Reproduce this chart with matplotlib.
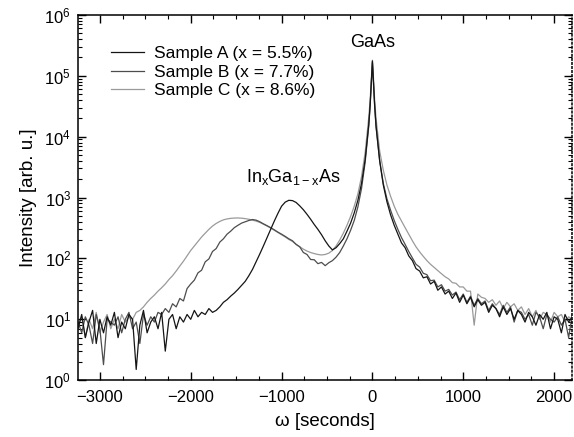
import numpy as np
import matplotlib
matplotlib.use("Agg")
import matplotlib.pyplot as plt
from matplotlib.ticker import MultipleLocator, LogLocator, NullFormatter

plt.rcParams['font.family'] = ['Liberation Sans', 'DejaVu Sans']
plt.rcParams['mathtext.default'] = 'regular'

# omega grid [seconds]: 40 s steps in the tails, finer around the GaAs peak
omega = np.concatenate([np.arange(-3240, -40, 40),
                        [-40, -25, -12, 0, 12, 25],
                        np.arange(40, 2201, 40)])

# Sample A (x = 5.5%)
sample_a = [
    # -3240 .. -2880
    7, 12, 5, 9, 14, 4, 10, 6, 11, 8,
    # -2840 .. -2480
    13, 5, 9, 7, 12, 10, 1.5, 8, 14, 6,
    # -2440 .. -2080
    9, 11, 7, 13, 3, 10, 12, 7, 11, 9,
    # -2040 .. -1680
    12, 10, 14, 11, 13, 12, 15, 13, 14, 16,
    # -1640 .. -1280
    19, 21, 24, 27, 31, 36, 42, 52, 66, 88,
    # -1240 .. -880
    118, 160, 220, 300, 410, 550, 720, 840, 900, 890,
    # -840 .. -480
    830, 730, 630, 530, 440, 360, 300, 245, 195, 160,
    # -440 .. -80
    138, 150, 175, 210, 280, 380, 560, 900, 1700, 4200,
    # -40 .. 25
    16000, 33000, 80000, 175000, 80000, 32000,
    # 40 .. 400
    15000, 4000, 1600, 850, 520, 350, 250, 180, 150, 110,
    # 440 .. 800
    92, 68, 62, 48, 50, 38, 42, 30, 34, 26,
    # 840 .. 1200
    29, 22, 27, 19, 25, 18, 23, 16, 21, 17,
    # 1240 .. 1600
    19, 13, 17, 15, 11, 16, 12, 15, 10, 14,
    # 1640 .. 2000
    12, 9, 13, 11, 8, 12, 10, 13, 7, 11,
    # 2040 .. 2200
    10, 6, 12, 9, 11,
]

# Sample B (x = 7.7%)
sample_b = [
    9, 6, 11, 8, 4, 12, 7, 1.8, 10, 9,
    8, 11, 6, 10, 13, 7, 9, 4, 12, 8,
    11, 9, 13, 12, 15, 13, 18, 16, 22, 20,
    32, 38, 44, 58, 64, 88, 98, 130, 145, 185,
    210, 250, 280, 320, 350, 380, 400, 420, 435, 425,
    400, 370, 345, 320, 295, 270, 250, 230, 210, 195,
    170, 155, 125, 116, 96, 95, 82, 86, 76, 85,
    92, 105, 125, 160, 210, 290, 420, 700, 1400, 3800,
    15000, 32000, 75000, 165000, 75000, 31000,
    14500, 4000, 1700, 950, 620, 420, 300, 220, 170, 130,
    102, 80, 72, 57, 54, 43, 44, 34, 37, 29,
    31, 25, 28, 21, 26, 19, 24, 17, 22, 18,
    20, 14, 18, 15, 12, 17, 13, 16, 9, 14,
    13, 10, 12, 8, 13, 11, 7, 12, 10, 9,
    11, 8, 10, 5, 12,
]

# Sample C (x = 8.6%)
sample_c = [
    8, 11, 5, 10, 7, 13, 6, 9, 12, 7,
    10, 7, 12, 9, 11, 10, 13, 14, 16, 19,
    22, 25, 29, 33, 38, 45, 52, 62, 75, 90,
    110, 135, 160, 190, 225, 260, 300, 340, 375, 405,
    430, 445, 455, 460, 462, 458, 450, 440, 425, 410,
    390, 365, 340, 315, 290, 268, 245, 225, 205, 190,
    170, 155, 142, 132, 125, 120, 116, 114, 116, 122,
    135, 160, 200, 260, 350, 490, 720, 1150, 2200, 5500,
    21000, 40000, 90000, 180000, 90000, 39000,
    20000, 5800, 2800, 1600, 1050, 720, 530, 410, 320, 250,
    195, 155, 128, 108, 92, 80, 71, 63, 56, 50,
    46, 40, 39, 34, 34, 29, 29, 8, 26, 23,
    22, 19, 21, 17, 20, 15, 19, 16, 18, 14,
    16, 12, 15, 11, 14, 10, 13, 12, 9, 13,
    11, 12, 9, 11, 10,
]

labels = ['Sample A (x = 5.5%)', 'Sample B (x = 7.7%)', 'Sample C (x = 8.6%)']
colors = ['#151515', '#4d4d4d', '#9a9a9a']
x_ticks = [-3000, -2000, -1000, 0, 1000, 2000]
y_ticks = [1e0, 1e1, 1e2, 1e3, 1e4, 1e5, 1e6]

fig = plt.figure(figsize=(5.74, 4.37), dpi=100)
ax = fig.add_axes([0.136, 0.13, 0.861, 0.836])

for y, lab, c, z in zip([sample_a, sample_b, sample_c], labels, colors, [3, 2, 1]):
    ax.plot(omega, y, color=c, lw=0.9, label=lab, zorder=z)

ax.set_yscale('log')
ax.set_xlim(-3240, 2200)
ax.set_ylim(1, 1e6)
ax.set_xticks(x_ticks)
ax.xaxis.set_minor_locator(MultipleLocator(250))
ax.set_yticks(y_ticks)
ax.yaxis.set_minor_locator(LogLocator(base=10, subs=np.arange(2, 10), numticks=20))
ax.yaxis.set_minor_formatter(NullFormatter())
ax.tick_params(which='both', direction='in', top=True, right=True, labelsize=12)
ax.tick_params(which='major', length=6, width=1)
ax.tick_params(which='minor', length=3, width=0.8)
ax.tick_params(axis='x', which='major', pad=7)
ax.tick_params(axis='y', which='major', pad=5)
for s in ax.spines.values():
    s.set_linewidth(1.1)
ax.spines['right'].set_linestyle(':')

ax.set_xlabel('ω [seconds]', fontsize=13.5, labelpad=6)
ax.set_ylabel('Intensity [arb. u.]', fontsize=13.5, labelpad=5)

ax.text(0, 3.5e5, 'GaAs', ha='center', va='center', fontsize=13)
ax.text(-870, 2200, r'In$_{x}$Ga$_{1-x}$As', ha='center', va='center', fontsize=13)

ax.legend(loc='upper left', bbox_to_anchor=(0.035, 0.958), frameon=False,
          fontsize=12.5, handlelength=1.9, handletextpad=0.6, labelspacing=0.2)

fig.savefig('out.png', dpi=100)
